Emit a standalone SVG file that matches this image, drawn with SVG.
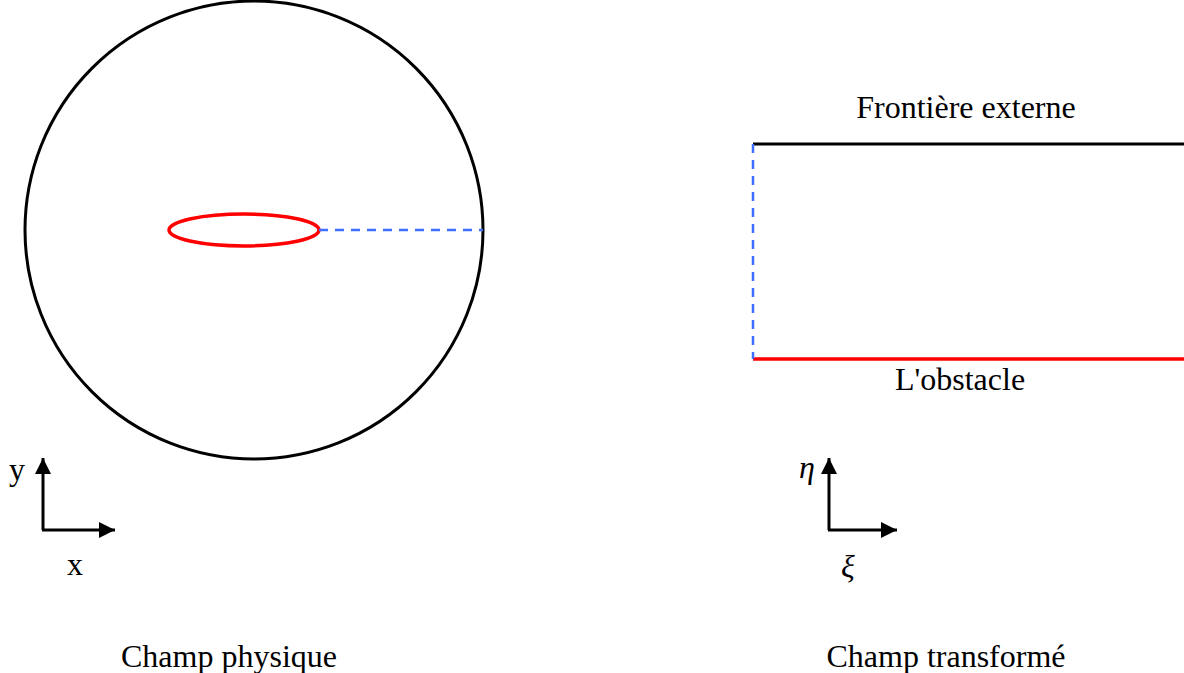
<svg xmlns="http://www.w3.org/2000/svg" width="1184" height="673" viewBox="0 0 1184 673">
<style>
text{font-family:"Liberation Serif","Times New Roman",serif;font-size:32px;fill:#000}
.it{font-style:italic}
.blk{stroke:#000;stroke-width:3;fill:none}
.red{stroke:#ff0000;stroke-width:3.5;fill:none}
.dash{stroke:#3f6fff;stroke-width:2.5;stroke-dasharray:9 7;fill:none}
.ax{stroke:#000;stroke-width:3;fill:none}
</style>
<defs>
<marker id="ah" viewBox="0 0 10 10" refX="10" refY="5" markerWidth="16" markerHeight="16" markerUnits="userSpaceOnUse" orient="auto">
<path d="M0,0 L10,5 L0,10 z" fill="#000"/>
</marker>
</defs>
<rect width="1184" height="673" fill="#fff"/>
<g id="physical">
<circle class="blk" cx="254" cy="230" r="229"/>
<ellipse id="obstacle" class="red" cx="244" cy="230" rx="75" ry="16"/>
</g>
<g id="transformed">
<line class="blk" x1="753" y1="144" x2="1184" y2="144"/>
<line class="red" x1="753" y1="359" x2="1184" y2="359"/>
</g>
<g id="connectors">
<line class="dash" x1="319" y1="230" x2="483" y2="230"/>
<line class="dash" x1="753" y1="144" x2="753" y2="359"/>
<path class="ax" d="M43,530 L43,458" marker-end="url(#ah)"/>
<path class="ax" d="M42,530 L115,530" marker-end="url(#ah)"/>
<path class="ax" d="M829,530 L829,458" marker-end="url(#ah)"/>
<path class="ax" d="M828,530 L897,530" marker-end="url(#ah)"/>
</g>
<g id="labels">
<text x="966" y="118" text-anchor="middle">Frontière externe</text>
<text x="960" y="390" text-anchor="middle">L'obstacle</text>
<text x="229" y="667" text-anchor="middle">Champ physique</text>
<text x="946" y="667" text-anchor="middle">Champ transformé</text>
<text x="9" y="480">y</text>
<text x="67" y="575">x</text>
<text class="it" x="799" y="478">η</text>
<text class="it" x="841" y="577">ξ</text>
</g>
</svg>
